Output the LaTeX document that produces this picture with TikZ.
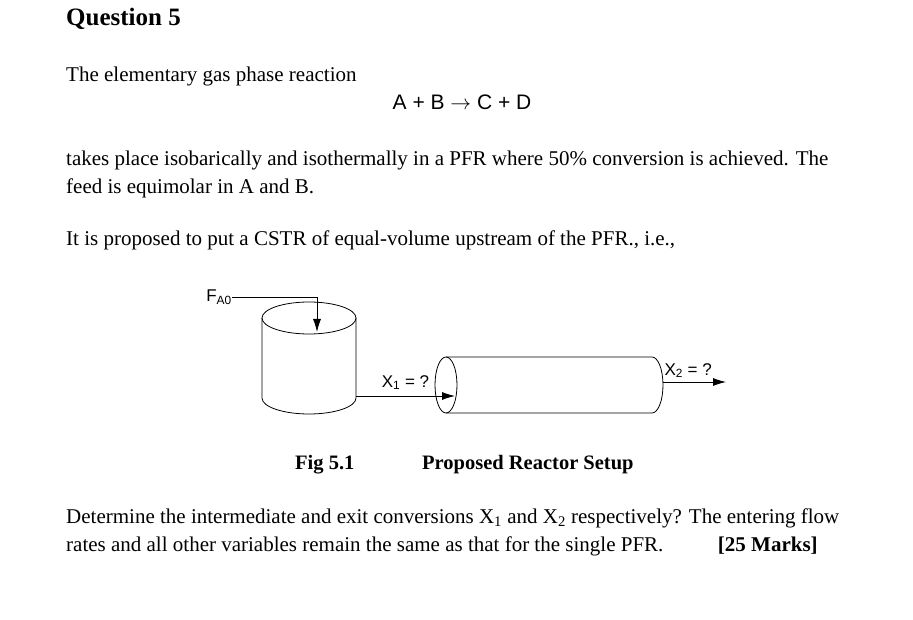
\documentclass[tikz,border=0pt]{standalone}
\usepackage{fontspec}
\setmainfont{Liberation Serif}
\setsansfont{Liberation Sans}
\usetikzlibrary{arrows.meta, positioning, calc}

\begin{document}
\begin{tikzpicture}[
    x=1pt, y=-1pt,
    >={Latex[length=13pt,width=8pt]},
    every node/.style={inner sep=0pt},
    txt/.style={anchor=base west, font={\fontsize{21}{24}\selectfont}}, % body text lines
    lbl/.style={font={\sffamily\fontsize{17}{20}\selectfont}},
    capt/.style={anchor=base west, font={\bfseries\fontsize{20.5}{24}\selectfont}},
    vessel/.style={thick},
    stream/.style={->, thick}
  ]
  \useasboundingbox (0,0) rectangle (913,620);

  \node[anchor=base west, font={\bfseries\fontsize{25}{28}\selectfont}] (title) at (66,26) {Question 5};
  \node[txt] (l1) at (66,82) {The elementary gas phase reaction};
  \node[anchor=base, font={\sffamily\fontsize{21}{26}\selectfont}] (rxn) at (462,110) {A + B $\rightarrow$ C + D};
  \node[txt] (l2) at (66,166) {takes place isobarically and isothermally in a PFR where 50\% conversion is achieved. The};
  \node[txt] (l3) at (66,194) {feed is equimolar in A and B.};
  \node[txt] (l4) at (66,246) {It is proposed to put a CSTR of equal-volume upstream of the PFR., i.e.,};

  % CSTR
  \draw[vessel] (309,318) ellipse (47 and 16);
  \draw[vessel] (262,318) -- (262,398) arc (180:0:47 and 16) -- (356,318);
  \node[lbl, anchor=east] (fa0) at (232,297) {F\textsubscript{A0}};
  \coordinate (feed) at (317,332);
  \draw[stream] (fa0.east) -| (feed);

  % PFR
  \draw[vessel] (446,385) ellipse (11 and 28);
  \draw[vessel] (446,357) -- (652,357) arc (-90:90:11 and 28) -- (446,413);
  \coordinate (cstrout) at (356,396);
  \coordinate (pfrin) at (455,396);
  \draw[stream] (cstrout) -- (pfrin) node[lbl, pos=0.5, above=6pt] {X\textsubscript{1} = ?};
  \coordinate (pfrout) at (663,382);
  \coordinate (exit) at (726,382);
  \draw[stream] (pfrout) -- (exit) node[lbl, pos=0.4, above=4pt] {X\textsubscript{2} = ?};

  \node[capt] (fig) at (295,469) {Fig 5.1};
  \node[capt] (cap) at (422,469) {Proposed Reactor Setup};

  \node[txt] (l5) at (66,523) {Determine the intermediate and exit conversions X\textsubscript{1} and X\textsubscript{2} respectively? The entering flow};
  \node[txt] (l6) at (66,551) {rates and all other variables remain the same as that for the single PFR.\hspace{2.6em}\textbf{[25 Marks]}};
\end{tikzpicture}
\end{document}
